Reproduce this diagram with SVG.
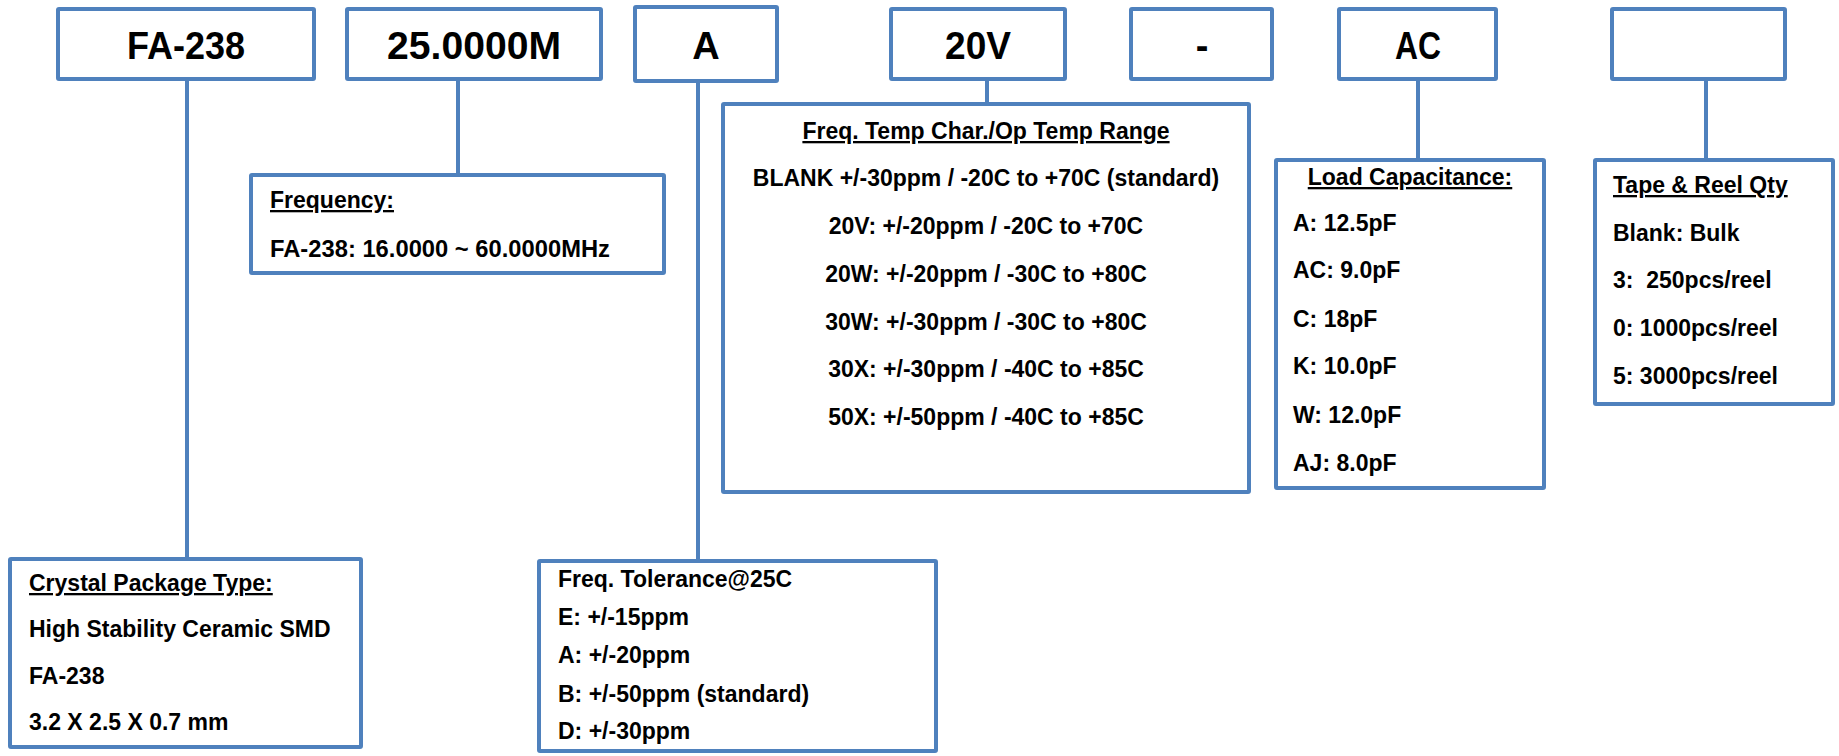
<svg xmlns="http://www.w3.org/2000/svg" width="1839" height="756" viewBox="0 0 1839 756">
<style>
.box{fill:#ffffff;stroke:#4F81BD;stroke-width:4;}
.ln{stroke:#4F81BD;stroke-width:4;fill:none;}
text{font-family:"Liberation Sans",Arial,sans-serif;font-weight:bold;fill:#000000;}
.big{font-size:38px;text-anchor:middle;}
.t{font-size:23px;}
.c{text-anchor:middle;}
.u{text-decoration:underline;}
</style>
<rect width="1839" height="756" fill="#ffffff"/>
<g id="connectors">
<line class="ln" x1="187" y1="81" x2="187" y2="558"/>
<line class="ln" x1="458" y1="81" x2="458" y2="174"/>
<line class="ln" x1="698" y1="83" x2="698" y2="560"/>
<line class="ln" x1="987" y1="81" x2="987" y2="103"/>
<line class="ln" x1="1418" y1="81" x2="1418" y2="159"/>
<line class="ln" x1="1706" y1="81" x2="1706" y2="159"/>
</g>
<g id="code-fa238">
<rect class="box" x="58" y="9" width="256" height="70" rx="1"/>
<text class="big" x="186" y="59" textLength="118" lengthAdjust="spacingAndGlyphs">FA-238</text>
</g>
<g id="code-freq">
<rect class="box" x="347" y="9" width="254" height="70" rx="1"/>
<text class="big" x="474" y="59" textLength="174" lengthAdjust="spacingAndGlyphs">25.0000M</text>
</g>
<g id="code-tol">
<rect class="box" x="635" y="7" width="142" height="74" rx="1"/>
<text class="big" x="706" y="59">A</text>
</g>
<g id="code-temp">
<rect class="box" x="891" y="9" width="174" height="70" rx="1"/>
<text class="big" x="978" y="59" textLength="66" lengthAdjust="spacingAndGlyphs">20V</text>
</g>
<g id="code-dash">
<rect class="box" x="1131" y="9" width="141" height="70" rx="1"/>
<text class="big" x="1202" y="59">-</text>
</g>
<g id="code-load">
<rect class="box" x="1339" y="9" width="157" height="70" rx="1"/>
<text class="big" x="1418" y="59" textLength="46" lengthAdjust="spacingAndGlyphs">AC</text>
</g>
<g id="code-reel">
<rect class="box" x="1612" y="9" width="173" height="70" rx="1"/>
</g>
<g id="desc-package">
<rect class="box" x="10" y="559" width="351" height="188" rx="1"/>
<text class="t u" x="29" y="591">Crystal Package Type:</text>
<text class="t" x="29" y="637">High Stability Ceramic SMD</text>
<text class="t" x="29" y="684">FA-238</text>
<text class="t" x="29" y="730">3.2 X 2.5 X 0.7 mm</text>
</g>
<g id="desc-frequency">
<rect class="box" x="251" y="175" width="413" height="98" rx="1"/>
<text class="t u" x="270" y="208">Frequency:</text>
<text class="t" x="270" y="257" textLength="340" lengthAdjust="spacingAndGlyphs">FA-238: 16.0000 ~ 60.0000MHz</text>
</g>
<g id="desc-tolerance">
<rect class="box" x="539" y="561" width="397" height="190" rx="1"/>
<text class="t" x="558" y="587">Freq. Tolerance@25C</text>
<text class="t" x="558" y="625">E: +/-15ppm</text>
<text class="t" x="558" y="663">A: +/-20ppm</text>
<text class="t" x="558" y="702">B: +/-50ppm (standard)</text>
<text class="t" x="558" y="739">D: +/-30ppm</text>
</g>
<g id="desc-temp">
<rect class="box" x="723" y="104" width="526" height="388" rx="1"/>
<text class="t c u" x="986" y="139">Freq. Temp Char./Op Temp Range</text>
<text class="t c" x="986" y="186">BLANK +/-30ppm / -20C to +70C (standard)</text>
<text class="t c" x="986" y="234">20V: +/-20ppm / -20C to +70C</text>
<text class="t c" x="986" y="282">20W: +/-20ppm / -30C to +80C</text>
<text class="t c" x="986" y="330">30W: +/-30ppm / -30C to +80C</text>
<text class="t c" x="986" y="377">30X: +/-30ppm / -40C to +85C</text>
<text class="t c" x="986" y="425">50X: +/-50ppm / -40C to +85C</text>
</g>
<g id="desc-load">
<rect class="box" x="1276" y="160" width="268" height="328" rx="1"/>
<text class="t c u" x="1410" y="185">Load Capacitance:</text>
<text class="t" x="1293" y="231">A: 12.5pF</text>
<text class="t" x="1293" y="278">AC: 9.0pF</text>
<text class="t" x="1293" y="327">C: 18pF</text>
<text class="t" x="1293" y="374">K: 10.0pF</text>
<text class="t" x="1293" y="423">W: 12.0pF</text>
<text class="t" x="1293" y="471">AJ: 8.0pF</text>
</g>
<g id="desc-reel">
<rect class="box" x="1595" y="160" width="238" height="244" rx="1"/>
<text class="t u" x="1613" y="193">Tape &amp; Reel Qty</text>
<text class="t" x="1613" y="241">Blank: Bulk</text>
<text class="t" x="1613" y="288" xml:space="preserve">3:  250pcs/reel</text>
<text class="t" x="1613" y="336">0: 1000pcs/reel</text>
<text class="t" x="1613" y="384">5: 3000pcs/reel</text>
</g>
</svg>
